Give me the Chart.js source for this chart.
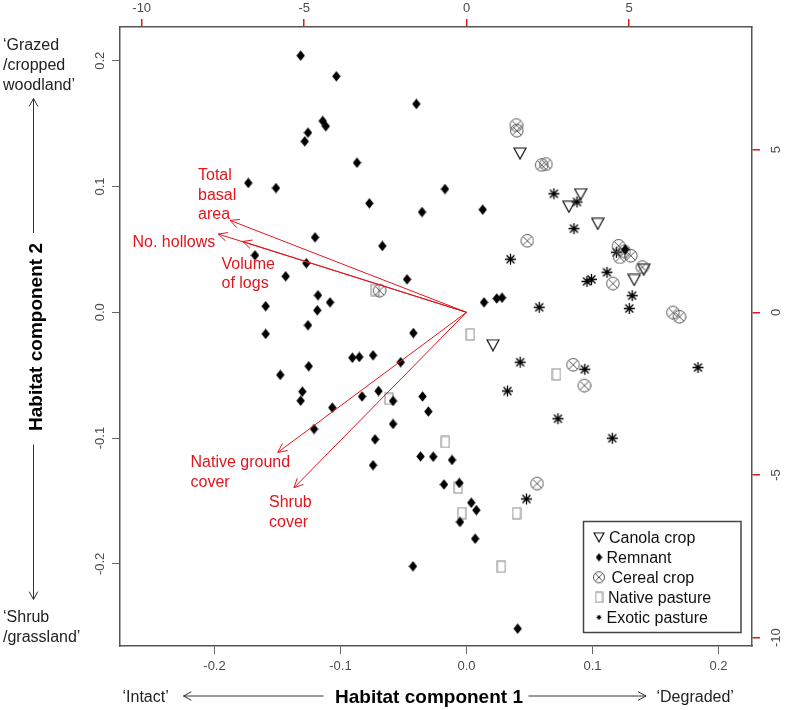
<!DOCTYPE html>
<html>
<head>
<meta charset="utf-8">
<script src="https://cdn.jsdelivr.net/npm/chart.js@4.4.1/dist/chart.umd.min.js"></script>
<style>
  html, body { margin: 0; padding: 0; background: #fff; }
  #wrap { position: relative; width: 785px; height: 710px; }
</style>
</head>
<body>
<div id="wrap"><canvas id="biplot"></canvas></div>
<script>
// site scores on habitat components 1 and 2, one pair of arrays per land use
const remnantX = [-0.1316, -0.1033, -0.0398, -0.1141, -0.1117, -0.1258, -0.1284, -0.0869, -0.1732, -0.1512,
  -0.0771, -0.0171, -0.0353, 0.0129, -0.1202, -0.0668, -0.1679, -0.1271, -0.1435, -0.0472,
  -0.1179, -0.1083, -0.1184, -0.1594, 0.0139, 0.0240, 0.0282, -0.1258, -0.1594, -0.0422,
  -0.0906, -0.0851, -0.0742, -0.0522, -0.1478, -0.1252, -0.1303, -0.1316, -0.1065, -0.0829,
  -0.0698, -0.0583, -0.0349, -0.0303, -0.1210, -0.0583, -0.0726, -0.0742, -0.0365, -0.0264,
  -0.0115, -0.0179, -0.0057, -0.0052, 0.0038, 0.0078, 0.0069, -0.0425, 0.0406, 0.1260]
const remnantY = [0.2040, 0.1876, 0.1656, 0.1521, 0.1479, 0.1428, 0.1359, 0.1189, 0.1028, 0.0988,
  0.0866, 0.0980, 0.0797, 0.0816, 0.0596, 0.0527, 0.0453, 0.0390, 0.0286, 0.0262,
  0.0135, 0.0079, 0.0016, 0.0048, 0.0079, 0.0110, 0.0116, -0.0103, -0.0172, -0.0165,
  -0.0361, -0.0355, -0.0342, -0.0397, -0.0498, -0.0429, -0.0631, -0.0703, -0.0758, -0.0669,
  -0.0626, -0.0705, -0.0669, -0.0789, -0.0928, -0.0888, -0.1010, -0.1216, -0.1146, -0.1148,
  -0.1174, -0.1369, -0.1357, -0.1667, -0.1514, -0.1573, -0.1800, -0.2019, -0.2515, 0.0499]

const canolaX = [0.0425, 0.0906, 0.0813, 0.1042, 0.1331, 0.1406, 0.0210]
const canolaY = [0.1262, 0.0938, 0.0839, 0.0703, 0.0257, 0.0339, -0.0262]

const cerealX = [0.0393, 0.0397, 0.0594, 0.0629, 0.0480, 0.1204, 0.1215, 0.1302, 0.1250, 0.1160,
  0.1393, 0.1637, 0.1688, -0.0692, 0.0844, 0.0933, 0.0558]
const cerealY = [0.1490, 0.1447, 0.1173, 0.1180, 0.0571, 0.0531, 0.0440, 0.0452, 0.0487, 0.0231,
  0.0362, 0.0001, -0.0033, 0.0175, -0.0415, -0.0580, -0.1359]

const nativeX = [-0.0726, 0.0030, -0.0615, -0.0168, -0.0066, -0.0037, 0.0714, 0.0397, 0.0276]
const nativeY = [0.0177, -0.0176, -0.0688, -0.1031, -0.1393, -0.1597, -0.0493, -0.1598, -0.2023]

const exoticX = [0.0694, 0.0877, 0.0853, 0.0349, 0.1190, 0.0956, 0.0992, 0.1115, 0.1315, 0.1292,
  0.0577, 0.0426, 0.0325, 0.0726, 0.0939, 0.0476, 0.1157, 0.1837]
const exoticY = [0.0942, 0.0877, 0.0665, 0.0422, 0.0477, 0.0245, 0.0262, 0.0318, 0.0132, 0.0030,
  0.0040, -0.0397, -0.0626, -0.0846, -0.0453, -0.1484, -0.1001, -0.0439]

// habitat variable loadings (arrows from the origin)
const variableNames = ['Total basal area', 'No. hollows', 'Volume of logs', 'Native ground cover', 'Shrub cover']
const variableX = [-0.1877, -0.1970, -0.1776, -0.1498, -0.1369]
const variableY = [0.0731, 0.0622, 0.0563, -0.1114, -0.1395]

// axis ticks
const pc1Ticks = [-0.2, -0.1, 0, 0.1, 0.2]
const pc1TickLabels = ['-0.2', '-0.1', '0.0', '0.1', '0.2']
const pc2Ticks = [-0.2, -0.1, 0, 0.1, 0.2]
const pc2TickLabels = ['-0.2', '-0.1', '0.0', '0.1', '0.2']
const loadTicks = [-10, -5, 0, 5]
const loadTickLabels = ['-10', '-5', '0', '5']

const legendLabels = ['Canola crop', 'Remnant', 'Cereal crop', 'Native pasture', 'Exotic pasture']

const RED = '#e3151c'
const FONT = '"Liberation Sans", Arial, sans-serif'
Chart.defaults.font.family = FONT

// where the red variable names sit (pixel layout, one entry per line of text)
const variableLabelLines = [
  { text: 'Total', x: 198, y: 180 },
  { text: 'basal', x: 198, y: 199.5 },
  { text: 'area', x: 198, y: 219 },
  { text: 'No. hollows', x: 132.5, y: 247 },
  { text: 'Volume', x: 221.5, y: 268.5 },
  { text: 'of logs', x: 221.5, y: 288 },
  { text: 'Native ground', x: 190.5, y: 466.5 },
  { text: 'cover', x: 190.5, y: 486.5 },
  { text: 'Shrub', x: 269, y: 507 },
  { text: 'cover', x: 269, y: 527 },
]

// ---- point symbols drawn on small canvases ----
function makeMarker(w, h, draw) {
  const c = document.createElement('canvas')
  c.width = w
  c.height = h
  draw(c.getContext('2d'), w, h)
  return c
}

function diamond(w, h) {
  return makeMarker(w, h, (ctx) => {
    ctx.fillStyle = '#000'
    ctx.beginPath()
    ctx.moveTo(w / 2, 0.3)
    ctx.lineTo(w - 0.3, h / 2)
    ctx.lineTo(w / 2, h - 0.3)
    ctx.lineTo(0.3, h / 2)
    ctx.closePath()
    ctx.fill()
  })
}

function triangleDown(w, h) {
  return makeMarker(w + 2, h + 2, (ctx) => {
    ctx.strokeStyle = '#111'
    ctx.lineWidth = 1.2
    ctx.beginPath()
    ctx.moveTo(1, 1)
    ctx.lineTo(w + 1, 1)
    ctx.lineTo(w / 2 + 1, h + 1)
    ctx.closePath()
    ctx.stroke()
  })
}

function circleCross(d) {
  return makeMarker(d + 3, d + 3, (ctx, w) => {
    const c = w / 2, r = d / 2, k = r * 0.7
    ctx.strokeStyle = '#555'
    ctx.lineWidth = 1
    ctx.beginPath()
    ctx.arc(c, c, r, 0, Math.PI * 2)
    ctx.moveTo(c - k, c - k)
    ctx.lineTo(c + k, c + k)
    ctx.moveTo(c + k, c - k)
    ctx.lineTo(c - k, c + k)
    ctx.stroke()
  })
}

function openRect(w, h) {
  return makeMarker(w + 2, h + 2, (ctx) => {
    ctx.strokeStyle = '#9a9a9a'
    ctx.lineWidth = 1.2
    ctx.strokeRect(1, 1, w, h)
  })
}

function asterisk(d, lw) {
  return makeMarker(d + 2, d + 2, (ctx, w) => {
    const c = w / 2, r = d / 2, k = r * 0.72
    ctx.strokeStyle = '#000'
    ctx.lineWidth = lw
    ctx.beginPath()
    ctx.moveTo(c, c - r); ctx.lineTo(c, c + r)
    ctx.moveTo(c - r, c); ctx.lineTo(c + r, c)
    ctx.moveTo(c - k, c - k); ctx.lineTo(c + k, c + k)
    ctx.moveTo(c + k, c - k); ctx.lineTo(c - k, c + k)
    ctx.stroke()
  })
}

const markers = {
  canola: triangleDown(12, 11),
  remnant: diamond(9, 11),
  cereal: circleCross(12.6),
  native: openRect(8, 11),
  exotic: asterisk(11, 1.3),
}
const legendMarkers = [triangleDown(10, 9), diamond(7, 9), circleCross(11), openRect(7, 10), asterisk(5, 1)]

const toPoints = (xs, ys) => xs.map((x, i) => ({ x, y: ys[i] }))

const arrowDatasets = variableNames.map((name, i) => ({
  label: name,
  data: [{ x: 0, y: 0 }, { x: variableX[i], y: variableY[i] }],
  showLine: true,
  borderColor: RED,
  borderWidth: 1,
  pointRadius: 0,
  order: 0,
}))

// ---- decorations: tick labels, arrowheads, texts, legend ----
function arrowHead(ctx, x0, y0, x1, y1, len, ang) {
  const a = Math.atan2(y1 - y0, x1 - x0)
  ctx.beginPath()
  ctx.moveTo(x1 - len * Math.cos(a - ang), y1 - len * Math.sin(a - ang))
  ctx.lineTo(x1, y1)
  ctx.lineTo(x1 - len * Math.cos(a + ang), y1 - len * Math.sin(a + ang))
  ctx.stroke()
}

function arrow(ctx, x0, y0, x1, y1) {
  ctx.beginPath()
  ctx.moveTo(x0, y0)
  ctx.lineTo(x1, y1)
  ctx.stroke()
  arrowHead(ctx, x0, y0, x1, y1, 9, 0.5)
}

function rotatedText(ctx, text, x, y) {
  ctx.save()
  ctx.translate(x, y)
  ctx.rotate(-Math.PI / 2)
  ctx.fillText(text, 0, 0)
  ctx.restore()
}

const biplotDecor = {
  id: 'biplotDecor',
  afterDatasetsDraw(chart) {
    const ctx = chart.ctx
    const sx = chart.scales.x, sy = chart.scales.y
    const x0 = sx.getPixelForValue(0), y0 = sy.getPixelForValue(0)
    ctx.save()
    ctx.strokeStyle = RED
    ctx.lineWidth = 1
    variableX.forEach((vx, i) => {
      arrowHead(ctx, x0, y0, sx.getPixelForValue(vx), sy.getPixelForValue(variableY[i]), 10, 0.45)
    })
    ctx.fillStyle = RED
    ctx.font = '16px ' + FONT
    ctx.textAlign = 'left'
    ctx.textBaseline = 'alphabetic'
    variableLabelLines.forEach((l) => ctx.fillText(l.text, l.x, l.y))
    ctx.restore()
  },
  afterDraw(chart) {
    const ctx = chart.ctx
    const { x, y, x2, y2 } = chart.scales
    ctx.save()

    // tick labels
    ctx.fillStyle = '#4a4a4a'
    ctx.font = '13px ' + FONT
    ctx.textAlign = 'center'
    ctx.textBaseline = 'middle'
    pc1Ticks.forEach((v, i) => ctx.fillText(pc1TickLabels[i], x.getPixelForValue(v), 666))
    loadTicks.forEach((v, i) => ctx.fillText(loadTickLabels[i], x2.getPixelForValue(v), 8))
    pc2Ticks.forEach((v, i) => rotatedText(ctx, pc2TickLabels[i], 100, y.getPixelForValue(v)))
    loadTicks.forEach((v, i) => rotatedText(ctx, loadTickLabels[i], 776.5, y2.getPixelForValue(v)))

    // axis titles
    ctx.fillStyle = '#000'
    ctx.font = 'bold 19px ' + FONT
    ctx.textBaseline = 'alphabetic'
    ctx.fillText('Habitat component 1', 429, 703)
    rotatedText(ctx, 'Habitat component 2', 41.5, 337)

    // direction annotations
    ctx.fillStyle = '#222'
    ctx.font = '16px ' + FONT
    ctx.textAlign = 'left'
    ctx.fillText('\u2018Grazed', 3, 50)
    ctx.fillText('/cropped', 3, 70)
    ctx.fillText('woodland\u2019', 3, 90)
    ctx.fillText('\u2018Shrub', 3, 621.5)
    ctx.fillText('/grassland\u2019', 3, 641.5)
    ctx.fillText('\u2018Intact\u2019', 122.5, 701.5)
    ctx.fillText('\u2018Degraded\u2019', 656.5, 701.5)

    ctx.strokeStyle = '#333'
    ctx.lineWidth = 1
    arrow(ctx, 33.5, 233, 33.5, 98.5)
    arrow(ctx, 33.5, 444.5, 33.5, 599.5)
    arrow(ctx, 323.5, 696, 183.5, 696)
    arrow(ctx, 528.5, 696, 646, 696)

    // legend
    ctx.fillStyle = '#fff'
    ctx.fillRect(583.5, 521.5, 157.5, 111)
    ctx.strokeStyle = '#444'
    ctx.lineWidth = 1.5
    ctx.strokeRect(583.5, 521.5, 157.5, 111)
    const textX = [609, 606.5, 611.5, 608, 606.5]
    ctx.fillStyle = '#111'
    ctx.font = '16px ' + FONT
    legendLabels.forEach((label, i) => {
      const base = 543.3 + i * 20
      const m = legendMarkers[i]
      ctx.drawImage(m, 599 - m.width / 2, base - 6 - m.height / 2)
      ctx.fillText(label, textX[i], base)
    })
    ctx.restore()
  },
}

const frame = { display: true, color: '#555', width: 1.5 }

new Chart(document.getElementById('biplot').getContext('2d'), {
  type: 'scatter',
  data: {
    datasets: [
      ...arrowDatasets,
      { label: 'Remnant', data: toPoints(remnantX, remnantY), pointStyle: markers.remnant, pointRadius: 5, order: 1 },
      { label: 'Cereal crop', data: toPoints(cerealX, cerealY), pointStyle: markers.cereal, pointRadius: 6, order: 2 },
      { label: 'Canola crop', data: toPoints(canolaX, canolaY), pointStyle: markers.canola, pointRadius: 6, order: 3 },
      { label: 'Exotic pasture', data: toPoints(exoticX, exoticY), pointStyle: markers.exotic, pointRadius: 5, order: 4 },
      { label: 'Native pasture', data: toPoints(nativeX, nativeY), pointStyle: markers.native, pointRadius: 5, order: 5 },
    ],
  },
  options: {
    responsive: true,
    maintainAspectRatio: false,
    animation: false,
    layout: { padding: 0 },
    plugins: {
      legend: { display: false },
      tooltip: { enabled: false },
    },
    scales: {
      x: {
        type: 'linear',
        position: 'bottom',
        min: -0.275,
        max: 0.2266,
        afterBuildTicks: (s) => { s.ticks = pc1Ticks.map((v) => ({ value: v })) },
        afterFit: (s) => { s.height = 64 },
        ticks: { display: false },
        grid: { drawOnChartArea: false, tickLength: 8, color: '#666' },
        border: frame,
      },
      y: {
        type: 'linear',
        position: 'left',
        min: -0.2653,
        max: 0.2268,
        afterBuildTicks: (s) => { s.ticks = pc2Ticks.map((v) => ({ value: v })) },
        afterFit: (s) => { s.width = 120 },
        ticks: { display: false },
        grid: { drawOnChartArea: false, tickLength: 8, color: '#666' },
        border: frame,
      },
      x2: {
        type: 'linear',
        position: 'top',
        min: -10.668,
        max: 8.778,
        afterBuildTicks: (s) => { s.ticks = loadTicks.map((v) => ({ value: v })) },
        afterFit: (s) => { s.height = 27 },
        ticks: { display: false },
        grid: { drawOnChartArea: false, tickLength: 8, color: RED, lineWidth: 1.5 },
        border: frame,
      },
      y2: {
        type: 'linear',
        position: 'right',
        min: -10.255,
        max: 8.768,
        afterBuildTicks: (s) => { s.ticks = loadTicks.map((v) => ({ value: v })) },
        afterFit: (s) => { s.width = 33 },
        ticks: { display: false },
        grid: { drawOnChartArea: false, tickLength: 8, color: RED, lineWidth: 1.5 },
        border: frame,
      },
    },
  },
  plugins: [biplotDecor],
})
</script>
</body>
</html>
